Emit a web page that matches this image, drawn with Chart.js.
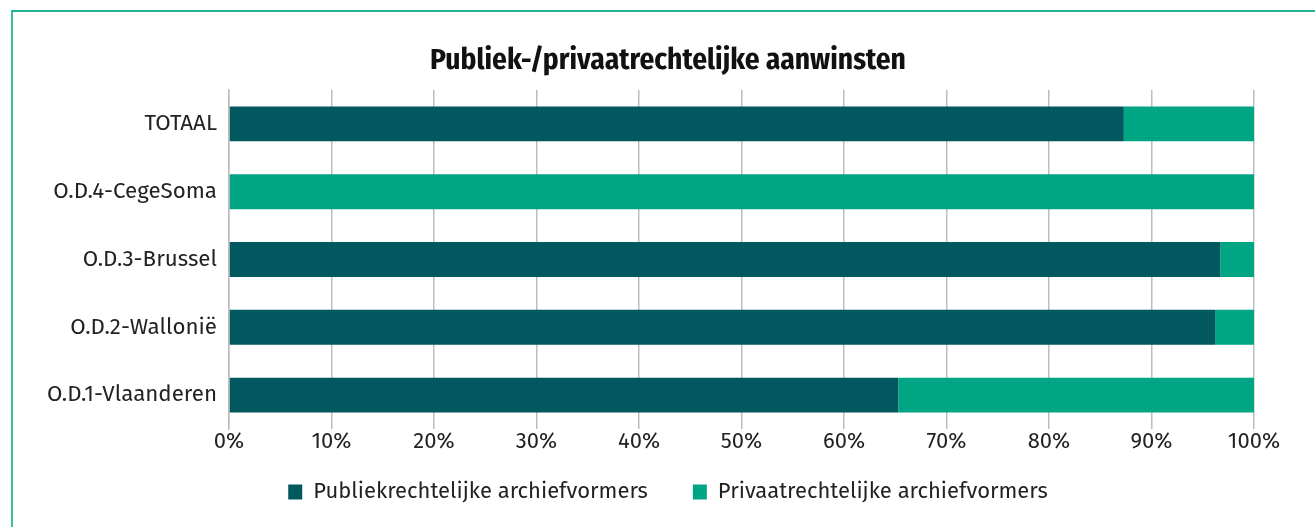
<!DOCTYPE html>
<html>
<head>
<meta charset="utf-8">
<script src="https://cdn.jsdelivr.net/npm/chart.js@4.4.1/dist/chart.umd.min.js"></script>
<style>
  html, body { margin: 0; padding: 0; background: #ffffff; }
  #wrap { position: relative; width: 1315px; height: 527px; overflow: hidden; }
  #frame { position: absolute; left: 11px; top: 10px; width: 1400px; height: 600px;
           border-left: 2px solid #3dbda0; border-top: 2px solid #1fb394; box-sizing: border-box; }
  canvas { position: absolute; left: 0; top: 0; }
</style>
</head>
<body>
<div id="wrap">
  <div id="frame"></div>
  <canvas id="c" width="1315" height="527"></canvas>
</div>
<script>
const categories = ['TOTAAL', 'O.D.4-CegeSoma', 'O.D.3-Brussel', 'O.D.2-Wallonië', 'O.D.1-Vlaanderen'];
const publiekValues = [87.3, 0, 96.7, 96.2, 65.3];
const privaatValues = [12.7, 100, 3.3, 3.8, 34.7];
const seriesNames = ['Publiekrechtelijke archiefvormers', 'Privaatrechtelijke archiefvormers'];
const tickValues = [0, 10, 20, 30, 40, 50, 60, 70, 80, 90, 100];
const titleText = 'Publiek-/privaatrechtelijke aanwinsten';

const FONT = "'Fira Sans', 'Open Sans', 'Noto Sans', sans-serif";
const TITLE_FONT = "'Fira Sans Condensed', 'Liberation Sans Narrow', 'DejaVu Sans Condensed', Roboto, sans-serif";

new Chart(document.getElementById('c'), {
  type: 'bar',
  data: {
    labels: categories,
    datasets: [
      { label: seriesNames[0], data: publiekValues, backgroundColor: '#02585f', borderWidth: 0,
        barPercentage: 0.515, categoryPercentage: 1.0 },
      { label: seriesNames[1], data: privaatValues, backgroundColor: '#00a584', borderWidth: 0,
        barPercentage: 0.515, categoryPercentage: 1.0 }
    ]
  },
  options: {
    indexAxis: 'y',
    responsive: false,
    animation: false,
    layout: { padding: { left: 21, right: 0, top: 0, bottom: 14 } },
    plugins: {
      title: {
        display: true, text: titleText, color: '#111111',
        font: { family: TITLE_FONT, size: 29.3, weight: 'bold' },
        padding: { top: 43, bottom: 11.8 }
      },
      legend: {
        position: 'bottom',
        labels: {
          color: '#222222', boxWidth: 14, boxHeight: 15, padding: 45,
          font: { family: FONT, size: 22 }
        }
      },
      tooltip: { enabled: false }
    },
    scales: {
      x: {
        stacked: true, min: 0, max: 100,
        afterBuildTicks: (s) => { s.ticks = tickValues.map(v => ({ value: v })); },
        afterFit: (s) => { s.height = 7; s._computeLabelArea = () => undefined; },
        ticks: { callback: (v) => v + '%', color: '#222222', padding: 0,
                 font: { family: FONT, size: 22 }, maxRotation: 0 },
        grid: { color: '#bdbdbd', lineWidth: 1.5, drawTicks: false },
        border: { display: false }
      },
      y: {
        stacked: true,
        afterFit: (s) => { s.width = 208; },
        ticks: { color: '#222222', padding: 12, font: { family: FONT, size: 22.3 } },
        grid: { display: false, drawTicks: false },
        border: { display: true, color: '#bdbdbd', width: 1.5 }
      },
      yRight: {
        type: 'category', position: 'right', labels: categories,
        afterFit: (s) => { s.width = 61; },
        ticks: { display: false },
        grid: { display: false, drawTicks: false },
        border: { display: false }
      }
    }
  }
});
</script>
</body>
</html>
